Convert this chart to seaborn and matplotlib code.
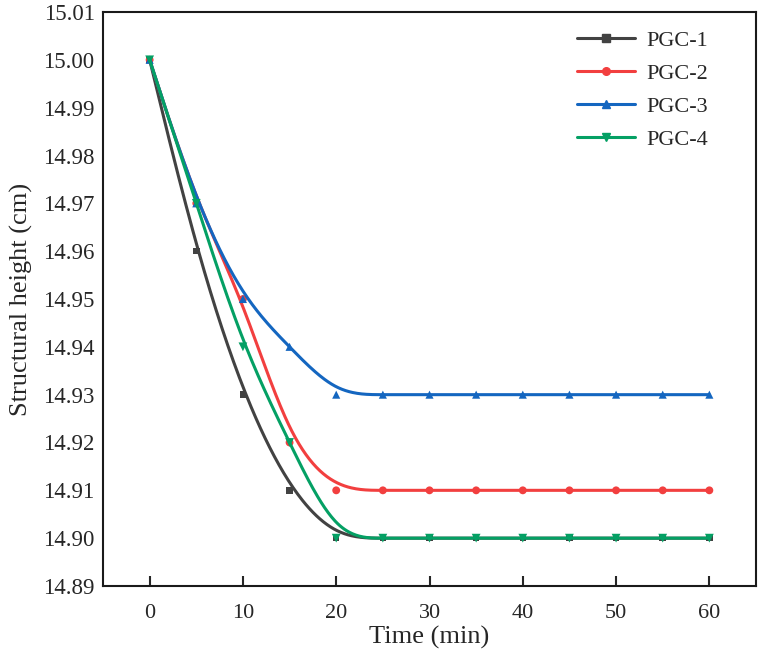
import numpy as np
import pandas as pd
import matplotlib
matplotlib.use("Agg")
import matplotlib.pyplot as plt
import seaborn as sns

time = [0, 5, 10, 15, 20, 25, 30, 35, 40, 45, 50, 55, 60]
pgc1 = [15.00, 14.96, 14.93, 14.91, 14.90, 14.90, 14.90, 14.90, 14.90, 14.90, 14.90, 14.90, 14.90]
pgc2 = [15.00, 14.97, 14.95, 14.92, 14.91, 14.91, 14.91, 14.91, 14.91, 14.91, 14.91, 14.91, 14.91]
pgc3 = [15.00, 14.97, 14.95, 14.94, 14.93, 14.93, 14.93, 14.93, 14.93, 14.93, 14.93, 14.93, 14.93]
pgc4 = [15.00, 14.97, 14.94, 14.92, 14.90, 14.90, 14.90, 14.90, 14.90, 14.90, 14.90, 14.90, 14.90]
names = ["PGC-1", "PGC-2", "PGC-3", "PGC-4"]
colors = ["#424242", "#f23f3f", "#1466c0", "#04a064"]
markers = ["s", "o", "^", "v"]
marker_sizes = [22, 32, 34, 40]


def bspline(x, y, n=40):
    # uniform cubic B-spline with the data as control points (ends clamped)
    px = np.r_[x[0], x[0], x, x[-1], x[-1]].astype(float)
    py = np.r_[y[0], y[0], y, y[-1], y[-1]].astype(float)
    t = np.linspace(0, 1, n, endpoint=False)
    b0 = (1 - t) ** 3 / 6
    b1 = (3 * t**3 - 6 * t**2 + 4) / 6
    b2 = (-3 * t**3 + 3 * t**2 + 3 * t + 1) / 6
    b3 = t**3 / 6
    xs, ys = [], []
    for i in range(len(px) - 3):
        xs.append(b0 * px[i] + b1 * px[i + 1] + b2 * px[i + 2] + b3 * px[i + 3])
        ys.append(b0 * py[i] + b1 * py[i + 1] + b2 * py[i + 2] + b3 * py[i + 3])
    xs.append([px[-1]])
    ys.append([py[-1]])
    return np.concatenate(xs), np.concatenate(ys)


sns.set_style("ticks")
plt.rcParams["font.family"] = ["Liberation Serif", "DejaVu Serif"]

fig = plt.figure(figsize=(7.62, 6.61), dpi=100)
ax = fig.add_axes([103 / 762, 1 - 586 / 661, 653 / 762, 574 / 661])

series = zip(names, [pgc1, pgc2, pgc3, pgc4], colors, markers, marker_sizes)
for k, (name, vals, c, m, ms) in enumerate(series):
    sx, sy = bspline(np.array(time), np.array(vals))
    sns.lineplot(x=sx, y=sy, ax=ax, color=c, lw=2.2, sort=False, estimator=None, zorder=2 + 2 * k)
    sns.scatterplot(x=time, y=vals, ax=ax, color=c, marker=m, s=ms, edgecolor="none", zorder=3 + 2 * k)
    ax.plot([], [], color=c, lw=2.2, marker=m, ms=5.5, label=name)

ax.set_xlim(-5, 65)
ax.set_ylim(14.89, 15.01)
ax.set_xticks(np.arange(0, 61, 10))
ax.set_yticks(np.arange(14.89, 15.0101, 0.01))
ax.yaxis.set_major_formatter(matplotlib.ticker.FormatStrFormatter("%.2f"))
ax.tick_params(axis="x", direction="in", length=7, width=1.5, labelsize=16, pad=13)
ax.tick_params(axis="y", length=0, labelsize=16.5, pad=6)
for s in ax.spines.values():
    s.set_linewidth(1.5)
    s.set_color("#1a1a1a")

ax.set_xlabel("Time (min)", fontsize=19, labelpad=2)
ax.set_ylabel("Structural height (cm)", fontsize=19, labelpad=7)

ax.legend(loc="upper left", frameon=False, fontsize=16, handlelength=2.6,
          handletextpad=0.5, labelspacing=0.57, borderpad=0, borderaxespad=0,
          bbox_to_anchor=((577 - 103) / 653, (586 - 30) / 574))

fig.savefig("out.png", dpi=100)
